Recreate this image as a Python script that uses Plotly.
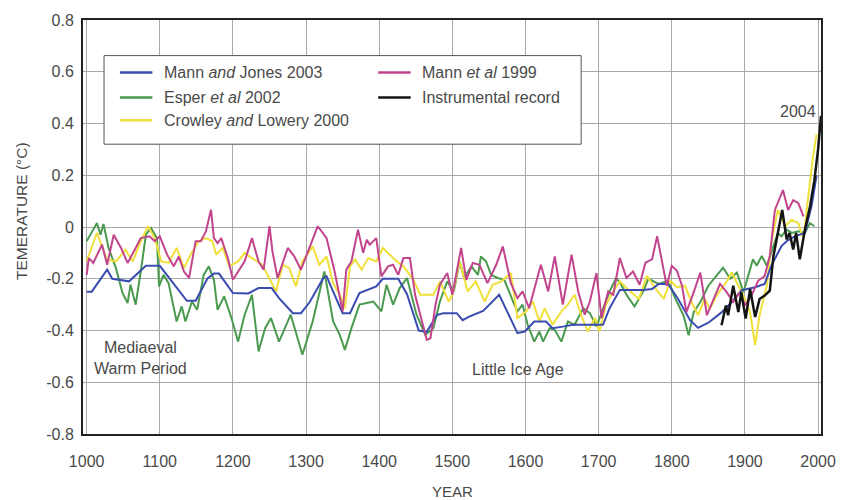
import plotly.graph_objects as go

# ---------------- data ----------------
mj_years = [1000,1007,1028,1035,1058,1081,1100,1128,1137,1149,1165,1174,1181,1200,1221,1235,1253,1263,1282,1293,1305,1323,1328,1337,1350,1360,1373,1396,1405,1426,1438,1454,1465,1479,1488,1506,1514,1523,1542,1564,1576,1589,1599,1612,1628,1637,1651,1665,1706,1715,1729,1761,1773,1782,1795,1809,1825,1836,1850,1868,1882,1895,1914,1927,1936,1950,1957,1968,1982,1991,1998]
mj_vals = [-0.25,-0.25,-0.165,-0.20,-0.21,-0.15,-0.15,-0.25,-0.285,-0.285,-0.20,-0.18,-0.18,-0.255,-0.257,-0.236,-0.236,-0.275,-0.333,-0.333,-0.29,-0.20,-0.19,-0.25,-0.333,-0.333,-0.255,-0.23,-0.20,-0.20,-0.26,-0.40,-0.405,-0.34,-0.333,-0.333,-0.36,-0.346,-0.324,-0.262,-0.333,-0.41,-0.404,-0.365,-0.365,-0.391,-0.385,-0.378,-0.378,-0.314,-0.243,-0.243,-0.24,-0.22,-0.22,-0.28,-0.36,-0.39,-0.37,-0.33,-0.29,-0.245,-0.233,-0.22,-0.15,-0.074,-0.055,-0.036,-0.023,0.08,0.20]

esper_years = [1000,1014,1019,1023,1030,1040,1049,1056,1060,1067,1074,1081,1088,1096,1099,1105,1112,1123,1130,1135,1144,1151,1160,1167,1174,1179,1188,1198,1207,1216,1226,1235,1244,1252,1263,1279,1295,1309,1325,1337,1346,1353,1362,1373,1383,1392,1403,1410,1419,1428,1438,1451,1463,1474,1483,1493,1502,1510,1516,1526,1535,1539,1546,1553,1562,1571,1583,1589,1596,1603,1612,1619,1624,1633,1640,1649,1658,1667,1679,1688,1697,1706,1715,1724,1731,1738,1749,1761,1768,1782,1795,1805,1816,1823,1830,1839,1850,1861,1870,1880,1889,1898,1907,1911,1916,1923,1930,1936,1945,1950,1957,1964,1973,1982,1989,1995]
esper_vals = [-0.055,0.015,-0.03,0.012,-0.081,-0.159,-0.255,-0.294,-0.223,-0.30,-0.172,-0.03,-0.004,-0.043,-0.23,-0.185,-0.217,-0.365,-0.307,-0.365,-0.288,-0.32,-0.185,-0.152,-0.204,-0.32,-0.268,-0.352,-0.443,-0.339,-0.262,-0.481,-0.391,-0.352,-0.443,-0.339,-0.494,-0.365,-0.172,-0.365,-0.417,-0.475,-0.391,-0.30,-0.294,-0.288,-0.326,-0.223,-0.30,-0.236,-0.197,-0.339,-0.417,-0.391,-0.288,-0.21,-0.249,-0.133,-0.197,-0.152,-0.185,-0.114,-0.133,-0.185,-0.197,-0.204,-0.288,-0.326,-0.30,-0.378,-0.443,-0.404,-0.443,-0.391,-0.397,-0.443,-0.365,-0.378,-0.314,-0.333,-0.385,-0.314,-0.249,-0.197,-0.223,-0.262,-0.307,-0.249,-0.20,-0.22,-0.208,-0.278,-0.341,-0.418,-0.329,-0.29,-0.227,-0.189,-0.157,-0.20,-0.176,-0.252,-0.157,-0.125,-0.15,-0.112,-0.15,-0.10,-0.023,-0.036,-0.01,-0.023,-0.017,-0.023,0.015,0.003]

crowley_years = [1000,1014,1028,1040,1053,1063,1074,1084,1093,1102,1112,1123,1133,1142,1153,1163,1172,1177,1186,1195,1207,1216,1226,1240,1259,1268,1277,1286,1295,1309,1318,1328,1337,1346,1353,1360,1367,1376,1385,1396,1405,1415,1424,1433,1447,1456,1465,1474,1483,1495,1500,1510,1521,1532,1544,1555,1567,1580,1589,1601,1610,1619,1626,1637,1649,1658,1667,1676,1685,1695,1701,1710,1720,1729,1738,1749,1755,1766,1775,1789,1798,1807,1818,1827,1836,1845,1852,1861,1873,1882,1891,1900,1907,1914,1920,1930,1936,1945,1955,1964,1973,1980,1986,1993,1998]
crowley_vals = [-0.133,-0.023,-0.126,-0.133,-0.088,-0.133,-0.055,0.003,-0.043,-0.133,-0.139,-0.081,-0.159,-0.107,-0.055,-0.043,-0.055,-0.107,-0.081,-0.152,-0.133,-0.10,-0.12,-0.146,-0.249,-0.146,-0.159,-0.23,-0.133,-0.075,-0.146,-0.114,-0.217,-0.262,-0.314,-0.152,-0.126,-0.165,-0.12,-0.133,-0.081,-0.107,-0.133,-0.152,-0.204,-0.262,-0.262,-0.262,-0.21,-0.288,-0.262,-0.133,-0.249,-0.21,-0.288,-0.223,-0.21,-0.178,-0.352,-0.326,-0.288,-0.365,-0.314,-0.378,-0.326,-0.30,-0.262,-0.339,-0.404,-0.352,-0.404,-0.30,-0.249,-0.21,-0.236,-0.262,-0.278,-0.189,-0.227,-0.278,-0.208,-0.233,-0.227,-0.29,-0.341,-0.278,-0.316,-0.265,-0.22,-0.176,-0.227,-0.278,-0.329,-0.456,-0.341,-0.227,-0.061,0.066,0.003,0.028,0.015,-0.048,0.104,0.27,0.359]

mann99_years = [1000,1003,1009,1021,1028,1037,1047,1056,1067,1074,1086,1093,1100,1110,1119,1126,1133,1140,1149,1156,1163,1170,1174,1179,1184,1193,1200,1207,1216,1226,1235,1242,1250,1254,1261,1275,1284,1293,1305,1316,1328,1339,1350,1355,1362,1371,1378,1383,1387,1396,1403,1412,1419,1426,1433,1442,1449,1461,1465,1470,1477,1483,1493,1500,1512,1519,1528,1537,1548,1560,1569,1580,1589,1596,1605,1621,1631,1640,1651,1663,1672,1681,1688,1697,1704,1713,1720,1729,1738,1747,1756,1764,1773,1780,1786,1793,1800,1807,1814,1820,1830,1839,1848,1857,1866,1875,1884,1893,1900,1909,1918,1927,1934,1941,1945,1952,1959,1966,1973,1980]
mann99_vals = [-0.185,-0.12,-0.139,-0.068,-0.146,-0.03,-0.081,-0.139,-0.081,-0.043,-0.036,-0.055,-0.036,-0.107,-0.152,-0.114,-0.172,-0.197,-0.055,-0.055,-0.017,0.067,-0.043,-0.062,-0.043,-0.12,-0.204,-0.172,-0.133,-0.043,-0.133,-0.165,0.003,-0.094,-0.197,-0.081,-0.114,-0.165,-0.081,0.003,-0.043,-0.172,-0.326,-0.165,-0.133,-0.01,-0.10,-0.049,-0.068,-0.043,-0.191,-0.152,-0.146,-0.185,-0.12,-0.12,-0.262,-0.391,-0.436,-0.43,-0.30,-0.223,-0.178,-0.262,-0.081,-0.204,-0.139,-0.146,-0.217,-0.146,-0.075,-0.217,-0.275,-0.249,-0.314,-0.146,-0.249,-0.114,-0.30,-0.107,-0.249,-0.339,-0.288,-0.178,-0.352,-0.249,-0.262,-0.12,-0.197,-0.172,-0.223,-0.138,-0.125,-0.036,-0.125,-0.227,-0.15,-0.169,-0.227,-0.329,-0.252,-0.176,-0.341,-0.278,-0.22,-0.252,-0.29,-0.252,-0.303,-0.265,-0.208,-0.189,-0.112,0.066,0.092,0.143,0.066,0.104,0.092,0.041]

instr_years = [1868,1874,1877,1884,1891,1895,1901,1907,1914,1920,1927,1934,1939,1945,1951,1957,1961,1966,1970,1975,1982,1989,1995,2000,2004]
instr_vals = [-0.38,-0.303,-0.341,-0.227,-0.329,-0.252,-0.354,-0.24,-0.348,-0.278,-0.265,-0.246,-0.112,-0.023,0.066,-0.048,-0.023,-0.087,-0.023,-0.125,-0.01,0.079,0.181,0.30,0.43]

x_ticks = [1000, 1100, 1200, 1300, 1400, 1500, 1600, 1700, 1800, 1900, 2000]
y_ticks = [0.8, 0.6, 0.4, 0.2, 0, -0.2, -0.4, -0.6, -0.8]
y_tick_labels = ["0.8", "0.6", "0.4", "0.2", "0", "-0.2", "-0.4", "-0.6", "-0.8"]

series_names = ["Mann <i>and</i> Jones 2003", "Esper <i>et al</i> 2002",
                "Crowley <i>and</i> Lowery 2000", "Mann <i>et al</i> 1999",
                "Instrumental record"]

# ---------------- style ----------------
C_BLUE = "#3b4cb0"
C_GREEN = "#4b9a4f"
C_YELLOW = "#f0e03a"
C_PINK = "#c2448c"
C_BLACK = "#141414"
FONT = "Liberation Sans, Arial, sans-serif"
TXT = "#4a4a4a"

fig = go.Figure()
fig.add_trace(go.Scatter(x=esper_years, y=esper_vals, mode="lines",
                         line=dict(color=C_GREEN, width=2), showlegend=False))
fig.add_trace(go.Scatter(x=crowley_years, y=crowley_vals, mode="lines",
                         line=dict(color=C_YELLOW, width=2), showlegend=False))
fig.add_trace(go.Scatter(x=mj_years, y=mj_vals, mode="lines",
                         line=dict(color=C_BLUE, width=2), showlegend=False))
fig.add_trace(go.Scatter(x=mann99_years, y=mann99_vals, mode="lines",
                         line=dict(color=C_PINK, width=2), showlegend=False))
fig.add_trace(go.Scatter(x=instr_years, y=instr_vals, mode="lines",
                         line=dict(color=C_BLACK, width=2.5), showlegend=False))

# manual two-column legend (paper coords)
fig.add_shape(type="rect", xref="paper", yref="paper", x0=0.0285, x1=0.675,
              y0=0.700, y1=0.914, line=dict(color="#555", width=1),
              fillcolor="white", layer="above")
legend_items = [
    (series_names[0], C_BLUE, 0.050, 0.873),
    (series_names[1], C_GREEN, 0.050, 0.813),
    (series_names[2], C_YELLOW, 0.050, 0.758),
    (series_names[3], C_PINK, 0.400, 0.873),
    (series_names[4], C_BLACK, 0.400, 0.813),
]
for name, col, lx, ly in legend_items:
    fig.add_shape(type="line", xref="paper", yref="paper", x0=lx, x1=lx + 0.044,
                  y0=ly, y1=ly, line=dict(color=col, width=2.5), layer="above")
    fig.add_annotation(xref="paper", yref="paper", x=lx + 0.057, y=ly, text=name,
                       showarrow=False, xanchor="left", yanchor="middle",
                       font=dict(family=FONT, size=16, color=TXT))

# text labels
fig.add_annotation(x=1073, y=-0.508, text="Mediaeval<br>Warm Period", showarrow=False,
                   font=dict(family=FONT, size=16, color=TXT), align="center")
fig.add_annotation(x=1590, y=-0.549, text="Little Ice Age", showarrow=False,
                   font=dict(family=FONT, size=16, color=TXT))
fig.add_annotation(x=1972, y=0.445, text="2004", showarrow=False,
                   font=dict(family=FONT, size=16, color=TXT))
fig.add_annotation(xref="paper", yref="paper", x=-0.083, y=0.538, text="TEMERATURE (°C)",
                   textangle=-90, showarrow=False, xanchor="center", yanchor="middle",
                   font=dict(family=FONT, size=15.5, color=TXT))
fig.add_annotation(xref="paper", yref="paper", x=0.5, y=-0.139, text="YEAR",
                   showarrow=False, xanchor="center", yanchor="middle",
                   font=dict(family=FONT, size=15, color=TXT))

fig.update_layout(
    width=853, height=500,
    margin=dict(l=83, r=32, t=17, b=66),
    plot_bgcolor="white", paper_bgcolor="white",
    font=dict(family=FONT, size=16, color=TXT),
    xaxis=dict(range=[995, 2004], tickvals=x_ticks, showgrid=True, gridcolor="#a8a8a8",
               gridwidth=1, zeroline=False, showline=True, mirror=True,
               linecolor="#222", linewidth=2, ticks="outside", ticklen=12,
               tickcolor="rgba(0,0,0,0)", tickfont=dict(size=16, color=TXT)),
    yaxis=dict(range=[-0.8, 0.8], tickvals=y_ticks, ticktext=y_tick_labels,
               showgrid=True, gridcolor="#a8a8a8", gridwidth=1, zeroline=False,
               showline=True, mirror=True, linecolor="#222", linewidth=2,
               ticks="outside", ticklen=4, tickcolor="rgba(0,0,0,0)",
               tickfont=dict(size=16, color=TXT)),
)

fig.write_html("out.html")
